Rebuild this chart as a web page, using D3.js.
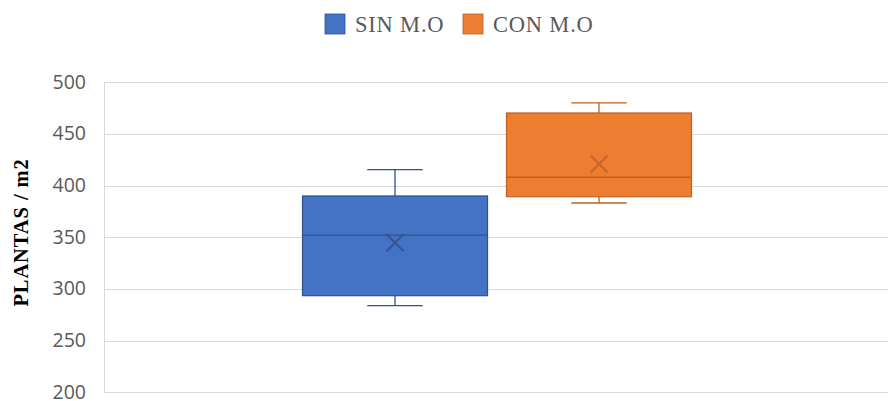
<!DOCTYPE html>
<html>
<head>
<meta charset="utf-8">
<script src="https://cdn.jsdelivr.net/npm/d3@7"></script>
<style>
  html, body { margin: 0; padding: 0; background: #fff; }
  svg { display: block; }
</style>
</head>
<body>
<svg id="chart" width="888" height="401"></svg>
<script>
// Box plot summary per treatment (plants per m2)
const series = ["SIN M.O", "CON M.O"];
const whiskerLow = [283.8, 383.2];
const quartile1 = [293.5, 389.3];
const medians = [352.2, 408.1];
const quartile3 = [390.0, 470.3];
const whiskerHigh = [415.4, 480.0];
const means = [344.8, 421.0];
const yTicks = [200, 250, 300, 350, 400, 450, 500];
const colors = ["#4472C4", "#ED7D31"];
const strokes = ["#2F528F", "#C0601F"];
const markColors = ["#30508C", "#C0632A"];

const svg = d3.select("#chart");
const W = 888, H = 401;
const plot = { left: 104, right: 890, top: 82.3, bottom: 392.3 };

const y = d3.scaleLinear().domain([200, 500]).range([plot.bottom, plot.top]);

// one category group, two series inside it
const x0 = d3.scaleBand().domain(["all"]).range([plot.left, plot.right])
  .paddingInner(0).paddingOuter(0.5103);
const x1 = d3.scaleBand().domain(series).range([0, x0.bandwidth()])
  .paddingInner(0.093).paddingOuter(0);

// gridlines
svg.append("g").selectAll("line").data(yTicks).join("line")
  .attr("x1", plot.left).attr("x2", W)
  .attr("y1", d => Math.round(y(d)) + 0.5).attr("y2", d => Math.round(y(d)) + 0.5)
  .attr("stroke", "#d9d9d9").attr("stroke-width", 1);

// left axis line
svg.append("line")
  .attr("x1", plot.left + 0.5).attr("x2", plot.left + 0.5)
  .attr("y1", Math.round(y(500)) + 0.5).attr("y2", Math.round(y(200)) + 0.5)
  .attr("stroke", "#d9d9d9");

// tick labels
const yAxis = d3.axisLeft(y).tickValues(yTicks).tickSize(0).tickPadding(0);
const ag = svg.append("g").attr("transform", `translate(${86},0)`).call(yAxis);
ag.select(".domain").remove();
ag.selectAll("text")
  .attr("font-family", "'Open Sans', sans-serif")
  .attr("font-size", "19.5px")
  .attr("fill", "#595959")
  .attr("dy", "0.3em");

// axis title
svg.append("text")
  .attr("transform", `translate(28,${232.5}) rotate(-90)`)
  .attr("text-anchor", "middle")
  .attr("font-family", "'Liberation Serif', 'Times New Roman', serif")
  .attr("font-weight", "bold")
  .attr("font-size", "20.5px")
  .attr("letter-spacing", "0.9px")
  .attr("fill", "#000")
  .text("PLANTAS / m2");

// boxes
const g = svg.append("g").attr("transform", `translate(${x0("all")},0)`);
series.forEach((s, i) => {
  const bx = x1(s), bw = x1.bandwidth(), cx = bx + bw / 2;
  const capW = bw * 0.3;
  const grp = g.append("g");
  // whiskers
  grp.append("line").attr("x1", cx).attr("x2", cx)
    .attr("y1", y(whiskerHigh[i])).attr("y2", y(quartile3[i]))
    .attr("stroke", strokes[i]).attr("stroke-width", 1.3);
  grp.append("line").attr("x1", cx).attr("x2", cx)
    .attr("y1", y(quartile1[i])).attr("y2", y(whiskerLow[i]))
    .attr("stroke", strokes[i]).attr("stroke-width", 1.3);
  [whiskerHigh[i], whiskerLow[i]].forEach(v => {
    grp.append("line").attr("x1", cx - capW / 2).attr("x2", cx + capW / 2)
      .attr("y1", y(v)).attr("y2", y(v))
      .attr("stroke", strokes[i]).attr("stroke-width", 1.3);
  });
  // box
  grp.append("rect")
    .attr("x", bx).attr("y", y(quartile3[i]))
    .attr("width", bw).attr("height", y(quartile1[i]) - y(quartile3[i]))
    .attr("fill", colors[i]).attr("stroke", strokes[i]).attr("stroke-width", 1.2);
  // median
  grp.append("line").attr("x1", bx).attr("x2", bx + bw)
    .attr("y1", y(medians[i])).attr("y2", y(medians[i]))
    .attr("stroke", strokes[i]).attr("stroke-width", 1.3);
  // mean marker
  const m = 8.5, my = y(means[i]);
  grp.append("path")
    .attr("d", `M${cx - m},${my - m}L${cx + m},${my + m}M${cx - m},${my + m}L${cx + m},${my - m}`)
    .attr("stroke", markColors[i]).attr("stroke-width", 2.2).attr("fill", "none")
    .attr("stroke-opacity", 0.85);
});

// legend
const legendX = [325, 463];
const lg = svg.append("g");
series.forEach((s, i) => {
  lg.append("rect").attr("x", legendX[i]).attr("y", 14)
    .attr("width", 20).attr("height", 20)
    .attr("fill", colors[i]).attr("stroke", strokes[i]).attr("stroke-width", 0.8);
  lg.append("text").attr("x", legendX[i] + 30).attr("y", 32.3)
    .attr("font-family", "'Liberation Serif', 'Times New Roman', serif")
    .attr("font-size", "22.5px")
    .attr("letter-spacing", "0.8px")
    .attr("fill", "#595959")
    .text(s);
});
</script>
</body>
</html>
